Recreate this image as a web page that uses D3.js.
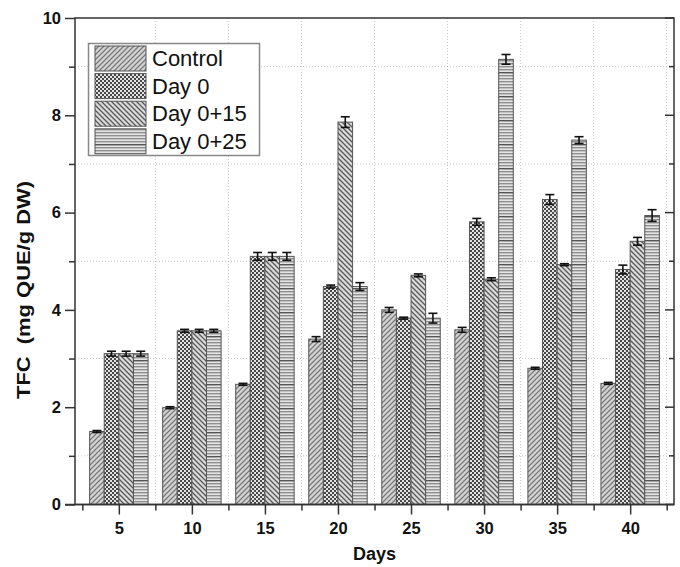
<!DOCTYPE html>
<html><head><meta charset="utf-8">
<script src="https://cdn.jsdelivr.net/npm/d3@7"></script>
<style>body{margin:0;background:#fff}svg{display:block}</style>
</head><body><svg id="c" width="680" height="567"></svg>
<script>
const days = [5, 10, 15, 20, 25, 30, 35, 40];
const seriesNames = ["Control", "Day 0", "Day 0+15", "Day 0+25"];
const control = [1.50, 1.99, 2.47, 3.40, 4.00, 3.59, 2.80, 2.49];
const day0 = [3.10, 3.57, 5.10, 4.48, 3.83, 5.81, 6.27, 4.83];
const day15 = [3.10, 3.57, 5.10, 7.86, 4.71, 4.63, 4.93, 5.41];
const day25 = [3.10, 3.57, 5.10, 4.48, 3.83, 9.15, 7.49, 5.94];
const errControl = [0.02, 0.02, 0.02, 0.05, 0.05, 0.05, 0.02, 0.02];
const errDay0 = [0.05, 0.03, 0.08, 0.03, 0.02, 0.07, 0.10, 0.09];
const errDay15 = [0.05, 0.03, 0.08, 0.11, 0.03, 0.03, 0.02, 0.08];
const errDay25 = [0.05, 0.03, 0.08, 0.08, 0.10, 0.10, 0.07, 0.12];
const yTicks = [0, 2, 4, 6, 8, 10];
const xTicks = [5, 10, 15, 20, 25, 30, 35, 40];

const values = [control, day0, day15, day25];
const errs = [errControl, errDay0, errDay15, errDay25];

const svg = d3.select("#c");
const L = 75, R = 674, T = 18, B = 504.5;
const FONT = "Liberation Sans, Arial, sans-serif";
const x = d3.scaleLinear().domain([2, 43]).range([L, R]);
const y = d3.scaleLinear().domain([0, 10]).range([B, T]);

// patterns
const defs = svg.append("defs");
function pat(id, w, h, build) {
  const p = defs.append("pattern").attr("id", id).attr("patternUnits", "userSpaceOnUse")
    .attr("width", w).attr("height", h);
  build(p);
}
pat("p0", 5, 5, p => {
  p.append("rect").attr("width", 5).attr("height", 5).attr("fill", "#d4d4d4");
  p.append("path").attr("d", "M-1,1 L1,-1 M0,5 L5,0 M4,6 L6,4").attr("stroke", "#7a7a7a").attr("stroke-width", 1.3);
});
pat("p1", 4, 4, p => {
  p.append("rect").attr("width", 4).attr("height", 4).attr("fill", "#e2e2e2");
  p.append("rect").attr("width", 2).attr("height", 2).attr("fill", "#484848");
  p.append("rect").attr("x", 2).attr("y", 2).attr("width", 2).attr("height", 2).attr("fill", "#484848");
});
pat("p2", 5, 5, p => {
  p.append("rect").attr("width", 5).attr("height", 5).attr("fill", "#dcdcdc");
  p.append("path").attr("d", "M-1,4 L1,6 M0,0 L5,5 M4,-1 L6,1").attr("stroke", "#5c5c5c").attr("stroke-width", 1.4);
});
pat("p3", 6, 24, p => {
  p.append("rect").attr("width", 6).attr("height", 24).attr("fill", "#e4e4e4");
  for (let i = 0; i < 8; i++) {
    p.append("rect").attr("y", i * 3).attr("width", 6).attr("height", 1.4)
      .attr("fill", i === 0 ? "#555" : "#8f8f8f");
  }
});
const fills = ["url(#p0)", "url(#p1)", "url(#p2)", "url(#p3)"];

// grid
const gridY = [1, 3, 5, 7, 9];
const gridX = d3.range(7.5, 43, 5);
svg.append("g").selectAll("line").data(gridY).join("line")
  .attr("x1", L).attr("x2", R).attr("y1", d => y(d)).attr("y2", d => y(d))
  .attr("stroke", "#c8c8c8").attr("stroke-dasharray", "1,2");
svg.append("g").selectAll("line").data(gridX).join("line")
  .attr("y1", T).attr("y2", B).attr("x1", d => x(d)).attr("x2", d => x(d))
  .attr("stroke", "#c8c8c8").attr("stroke-dasharray", "1,2");

// bars
const offsets = [-2, -1, 0, 1];
values.forEach((vals, s) => {
  const g = svg.append("g");
  g.selectAll("rect").data(vals).join("rect")
    .attr("x", (d, i) => x(days[i] + offsets[s]))
    .attr("width", (d, i) => x(days[i] + offsets[s] + 1) - x(days[i] + offsets[s]))
    .attr("y", d => y(d)).attr("height", d => B - y(d))
    .attr("fill", fills[s]).attr("stroke", "#555").attr("stroke-width", 1);
});
// error bars
values.forEach((vals, s) => {
  const g = svg.append("g").attr("stroke", "#111").attr("stroke-width", 1.6);
  vals.forEach((d, i) => {
    const cx = x(days[i] + offsets[s] + 0.5);
    const e = errs[s][i];
    g.append("line").attr("x1", cx).attr("x2", cx).attr("y1", y(d + e)).attr("y2", y(d - e));
    g.append("line").attr("x1", cx - 4.5).attr("x2", cx + 4.5).attr("y1", y(d + e)).attr("y2", y(d + e));
    g.append("line").attr("x1", cx - 4.5).attr("x2", cx + 4.5).attr("y1", y(d - e)).attr("y2", y(d - e));
  });
});

// axes frame
svg.append("rect").attr("x", L).attr("y", T).attr("width", R - L).attr("height", B - T)
  .attr("fill", "none").attr("stroke", "#333").attr("stroke-width", 1.5);

// left axis ticks
svg.append("g").attr("transform", `translate(${L},0)`)
  .call(d3.axisLeft(y).tickValues(yTicks).tickSize(10).tickPadding(4).tickFormat(d3.format("d")))
  .call(g => g.select(".domain").remove())
  .call(g => g.selectAll("line").attr("stroke", "#333").attr("stroke-width", 1.5))
  .call(g => g.selectAll("text").attr("font-family", FONT)
    .attr("font-weight", "bold").attr("font-size", 16.5).attr("fill", "#111"));
svg.append("g").attr("transform", `translate(${L},0)`)
  .call(d3.axisLeft(y).tickValues([1, 3, 5, 7, 9]).tickSize(6).tickFormat(""))
  .call(g => g.select(".domain").remove())
  .call(g => g.selectAll("line").attr("stroke", "#333").attr("stroke-width", 1.5));
// right axis inward ticks
const rt = svg.append("g").attr("stroke", "#333").attr("stroke-width", 1.5);
rt.selectAll(".maj").data(yTicks).join("line").attr("x1", R).attr("x2", R - 9)
  .attr("y1", d => y(d)).attr("y2", d => y(d));
rt.selectAll(".min").data([1, 3, 5, 7, 9]).join("line").attr("x1", R).attr("x2", R - 5)
  .attr("y1", d => y(d)).attr("y2", d => y(d));

// bottom axis
svg.append("g").attr("transform", `translate(0,${B})`)
  .call(d3.axisBottom(x).tickValues(xTicks).tickSize(10).tickPadding(8).tickFormat(d3.format("d")))
  .call(g => g.select(".domain").remove())
  .call(g => g.selectAll("line").attr("stroke", "#333").attr("stroke-width", 1.5))
  .call(g => g.selectAll("text").attr("font-family", FONT)
    .attr("font-weight", "bold").attr("font-size", 16.5).attr("fill", "#111"));
svg.append("g").attr("transform", `translate(0,${B})`)
  .call(d3.axisBottom(x).tickValues(d3.range(2.5, 43, 5)).tickSize(6).tickFormat(""))
  .call(g => g.select(".domain").remove())
  .call(g => g.selectAll("line").attr("stroke", "#333").attr("stroke-width", 1.5));
svg.append("line").attr("x1", L - 10).attr("x2", R).attr("y1", B).attr("y2", B)
  .attr("stroke", "#333").attr("stroke-width", 1.5);

// axis titles
svg.append("text").attr("x", (L + R) / 2).attr("y", 560).attr("text-anchor", "middle")
  .attr("font-family", FONT).attr("font-weight", "bold")
  .attr("font-size", 18).attr("fill", "#111").text("Days");
svg.append("text").attr("transform", "translate(30,399) rotate(-90)").attr("text-anchor", "start")
  .attr("font-family", FONT).attr("font-weight", "bold")
  .attr("font-size", 18).attr("fill", "#111").attr("textLength", 218).attr("lengthAdjust", "spacingAndGlyphs")
  .style("white-space", "pre").text("TFC  (mg QUE/g DW)");

// legend
const lg = svg.append("g");
lg.append("rect").attr("x", 88.5).attr("y", 43.5).attr("width", 171).attr("height", 112)
  .attr("fill", "#fff").attr("stroke", "#888").attr("stroke-width", 1.5);
seriesNames.forEach((n, i) => {
  const yy = 46 + i * 27.6;
  lg.append("rect").attr("x", 95).attr("y", yy).attr("width", 51).attr("height", 25)
    .attr("fill", fills[i]).attr("stroke", "#555").attr("stroke-width", 1);
  lg.append("text").attr("x", 152).attr("y", yy + 20).attr("font-family", FONT)
    .attr("font-size", 22).attr("fill", "#111").text(n);
});
</script></body></html>
